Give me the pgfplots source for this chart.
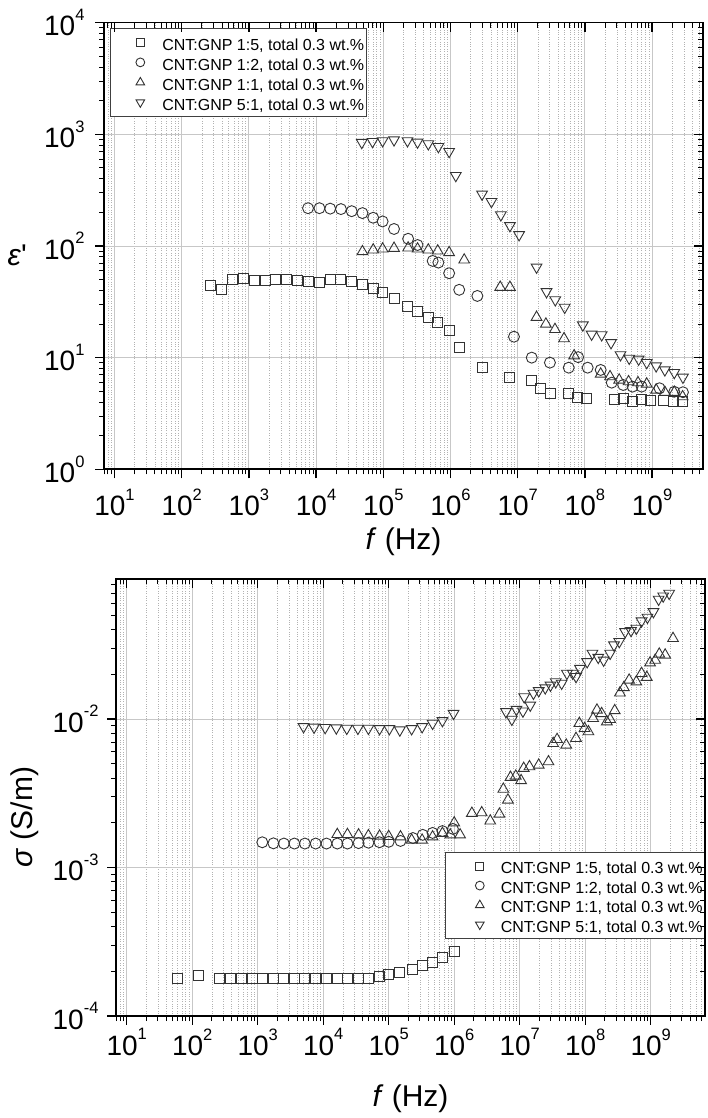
\documentclass[border=0pt]{standalone}
\usepackage{pgfplots}
\pgfplotsset{compat=1.18}
\usepackage{fontspec}
\setmainfont{Liberation Sans}

% tick label 10^n in the text font
\newcommand{\tl}[1]{10\raisebox{0.55em}{\fontsize{16.5}{16.5}\selectfont #1}}

\pgfplotsset{
  myaxis/.style={
    scale only axis,
    axis line style={line width=1.6pt},
    major tick length=9pt, minor tick length=5pt,
    tick style={black, line width=1.3pt},
    minor tick style={line width=1.0pt},
    ticklabel style={font=\fontsize{28}{30}\selectfont},
    label style={font=\fontsize{30}{34}\selectfont},
    xtick={1e1,1e2,1e3,1e4,1e5,1e6,1e7,1e8,1e9},
    minor xtick={7,8,9,20,30,40,50,60,70,80,90,200,300,400,500,600,700,800,900,2e3,3e3,4e3,5e3,6e3,7e3,8e3,9e3,2e4,3e4,4e4,5e4,6e4,7e4,8e4,9e4,2e5,3e5,4e5,5e5,6e5,7e5,8e5,9e5,2e6,3e6,4e6,5e6,6e6,7e6,8e6,9e6,2e7,3e7,4e7,5e7,6e7,7e7,8e7,9e7,2e8,3e8,4e8,5e8,6e8,7e8,8e8,9e8,2e9,3e9,4e9,5e9,6e9},
  },
  epsy/.style={
    ytick={1,10,100,1000,10000},
    minor ytick={2,3,4,5,6,7,8,9,20,30,40,50,60,70,80,90,200,300,400,500,600,700,800,900,2000,3000,4000,5000,6000,7000,8000,9000},
  },
  sigy/.style={
    ytick={1e-4,1e-3,1e-2},
    minor ytick={2e-4,3e-4,4e-4,5e-4,6e-4,7e-4,8e-4,9e-4,2e-3,3e-3,4e-3,5e-3,6e-3,7e-3,8e-3,9e-3,2e-2,3e-2,4e-2,5e-2,6e-2,7e-2,8e-2},
  },
}
\tikzset{
  msq/.style={mark=square, mark size=5pt, mark options={draw=black!80, line width=0.9pt}},
  mci/.style={mark=o, mark size=5.5pt, mark options={draw=black!80, line width=0.9pt}},
  mtu/.style={mark=triangle, mark size=6.2pt, mark options={draw=black!80, line width=0.9pt}},
  mtd/.style={mark=triangle, mark size=6.2pt, mark options={draw=black!80, line width=0.9pt, rotate=180}},
}

\begin{document}
\begin{tikzpicture}
\path[use as bounding box] (0,0) rectangle (707pt,1118pt);

% ---------------- permittivity ----------------
\begin{axis}[myaxis, epsy, xmode=log, ymode=log,
    at={(104pt,648.7pt)}, anchor=south west, width=599pt, height=446.6pt,
    xmin=6.98, xmax=5.73e9, ymin=1, ymax=1e4,
    xticklabels={\tl{1},\tl{2},\tl{3},\tl{4},\tl{5},\tl{6},\tl{7},\tl{8},\tl{9}},
    yticklabels={\tl{0},\tl{1},\tl{2},\tl{3},\tl{4}},
    xticklabel style={yshift=-7pt},
    yticklabel style={xshift=-7pt},
    tick align=outside, xtick pos=left, ytick pos=left,
    xmajorgrids, ymajorgrids, xminorgrids,
    major grid style={black!22, line width=0.8pt},
    minor grid style={black!30, dotted, line width=0.7pt},
    xlabel={\textit{f} (Hz)},
    xlabel style={at={(axis description cs:0.5,0)}, anchor=center, yshift=-72pt},
    ylabel={\textit{ε}\textquotesingle},
    ylabel style={at={(axis description cs:-0.145,0.48)}, anchor=center, rotate=-90},
    legend cell align=left,
    legend style={at={(0.010,0.988)}, anchor=north west, draw=black!75, line width=0.7pt,
      font=\fontsize{16}{18}\selectfont, inner xsep=0pt, inner ysep=4pt, row sep=0pt,
      nodes={inner xsep=2pt, inner ysep=0pt, text height=18pt, text depth=2pt}},
    legend image code/.code={\path[draw=none] (0pt,-1pt) rectangle (50pt,1pt);
      \draw[#1, every mark/.append style={scale=0.8}] plot coordinates {(30pt,0pt)};},
  ]
\addplot[only marks, msq] table {
269 43.9
394 41.0
566 49.7
826 51.1
1191 49.0
1738 49.0
2512 49.7
3631 50.1
5248 49.0
7586 48.4
11220 47.4
16218 49.7
23442 50.1
33884 48.0
48978 45.5
70795 41.5
97724 38.3
144544 34.0
229087 29.0
323594 26.1
467735 23.0
645654 20.6
954993 17.7
1.349e6 12.3
2.951e6 8.13
7.50e6 6.62
1.62e7 6.31
2.19e7 5.27
3.09e7 4.73
5.62e7 4.80
7.76e7 4.42
1.07e8 4.33
2.75e8 4.18
3.72e8 4.33
5.13e8 4.06
7.00e8 4.24
9.55e8 4.12
1.48e9 4.12
2.09e9 4.04
2.88e9 4.04
};
\addlegendentry{CNT:GNP 1:5, total 0.3 wt.\%}
\addplot[only marks, mci] table {
7586 218
11220 218
16218 216
23442 214
33884 205
48978 197
70795 179
97724 166
144544 142
234423 116
323594 102
543250 73.5
660693 71.0
954993 57.0
1.349e6 40.5
2.512e6 35.7
8.81e6 15.4
1.62e7 10.0
3.02e7 9.02
5.75e7 8.13
7.94e7 10.1
1.10e8 8.13
1.72e8 7.76
2.51e8 5.97
3.72e8 5.69
5.13e8 5.50
7.00e8 5.50
1.29e9 5.32
2.14e9 4.95
2.88e9 4.90
};
\addlegendentry{CNT:GNP 1:2, total 0.3 wt.\%}
\addplot[only marks, mtu] table {
48978 89.1
70795 92.3
97724 94.2
144544 95.5
234423 96.2
323594 94.2
467735 92.3
645654 90.4
954993 87.3
1.60e6 75.0
5.50e6 42.7
7.67e6 42.7
1.91e7 23.0
2.63e7 20.0
3.59e7 17.9
4.90e7 14.8
6.92e7 10.4
1.72e8 7.14
2.37e8 6.76
3.24e8 6.31
4.47e8 6.10
6.17e8 5.97
8.32e8 5.81
1.15e9 5.13
1.55e9 4.90
2.14e9 4.90
2.85e9 4.47
};
\addlegendentry{CNT:GNP 1:1, total 0.3 wt.\%}
\addplot[only marks, mtd] table {
47863 845
69183 861
97724 875
144544 891
229087 875
323594 851
467735 822
660693 776
954993 701
1.20e6 427
2.95e6 291
4.07e6 250
5.62e6 190
7.67e6 152
1.05e7 126
1.91e7 64.6
2.69e7 38.9
3.63e7 32.9
5.01e7 28.2
9.33e7 19.6
1.26e8 16.2
1.78e8 16.0
2.45e8 13.6
3.39e8 10.6
4.57e8 9.86
6.31e8 9.68
8.32e8 9.02
1.15e9 8.43
1.55e9 7.76
2.14e9 7.35
2.88e9 6.67
};
\addlegendentry{CNT:GNP 5:1, total 0.3 wt.\%}
\end{axis}
% mirrored inward ticks on top and right
\begin{axis}[myaxis, epsy, xmode=log, ymode=log,
    at={(104pt,648.7pt)}, anchor=south west, width=599pt, height=446.6pt,
    xmin=6.98, xmax=5.73e9, ymin=1, ymax=1e4,
    xticklabels={}, yticklabels={},
    tick align=inside, xtick pos=right, ytick pos=right,
  ]
\addplot[draw=none, forget plot] coordinates {(100,10)};
\end{axis}

% ---------------- conductivity ----------------
\begin{axis}[myaxis, sigy, xmode=log, ymode=log,
    at={(116pt,102pt)}, anchor=south west, width=589pt, height=437pt,
    xmin=6.87, xmax=6.74e9, ymin=1e-4, ymax=0.0877,
    xticklabels={\tl{1},\tl{2},\tl{3},\tl{4},\tl{5},\tl{6},\tl{7},\tl{8},\tl{9}},
    yticklabels={\tl{-4},\tl{-3},\tl{-2}},
    yticklabel style={xshift=-5pt},
    tick align=outside, xtick pos=left, ytick pos=left,
    xmajorgrids, ymajorgrids, xminorgrids,
    major grid style={black!22, line width=0.8pt},
    minor grid style={black!30, dotted, line width=0.7pt},
    xlabel={\textit{f} (Hz)},
    xlabel style={at={(axis description cs:0.5,0)}, anchor=center, yshift=-83pt},
    ylabel={\textit{σ} (S/m)},
    ylabel style={at={(axis description cs:-0.1545,0.455)}, anchor=center},
    legend cell align=left,
    legend style={at={(1,0.3753)}, anchor=north east, draw=black!75, line width=0.7pt,
      font=\fontsize{16}{18}\selectfont, inner xsep=0pt, inner ysep=4pt, row sep=0pt,
      nodes={inner xsep=2pt, inner ysep=0pt, text height=17.5pt, text depth=2pt}},
    legend image code/.code={\path[draw=none] (0pt,-1pt) rectangle (53pt,1pt);
      \draw[#1, every mark/.append style={scale=0.8}] plot coordinates {(34pt,0pt)};},
  ]
\addplot[only marks, msq] table {
59.3 1.795e-4
126 1.87e-4
263 1.795e-4
389 1.795e-4
562 1.795e-4
832 1.795e-4
1202 1.795e-4
1738 1.795e-4
2512 1.79e-4
3631 1.79e-4
5248 1.795e-4
7674 1.795e-4
11220 1.795e-4
16406 1.78e-4
23442 1.78e-4
34674 1.79e-4
48978 1.795e-4
72444 1.84e-4
100000 1.90e-4
147911 1.97e-4
234423 2.07e-4
323594 2.18e-4
467735 2.31e-4
660693 2.47e-4
1.0e6 2.71e-4
};
\addlegendentry{CNT:GNP 1:5, total 0.3 wt.\%}
\addplot[only marks, mci] table {
1175 1.479e-3
1738 1.455e-3
2512 1.45e-3
3631 1.45e-3
5248 1.45e-3
7674 1.45e-3
11220 1.45e-3
16406 1.45e-3
23442 1.45e-3
34674 1.46e-3
48978 1.47e-3
72444 1.48e-3
100000 1.49e-3
151356 1.51e-3
234423 1.58e-3
331131 1.66e-3
467735 1.71e-3
660693 1.76e-3
954993 1.82e-3
};
\addlegendentry{CNT:GNP 1:2, total 0.3 wt.\%}
\addplot[only marks, mtu] table {
16406 1.67e-3
23442 1.67e-3
34674 1.66e-3
48978 1.64e-3
72444 1.63e-3
100000 1.62e-3
151356 1.61e-3
223872 1.53e-3
323594 1.53e-3
467735 1.61e-3
660693 1.70e-3
870964 1.66e-3
1.0e6 2.0e-3
1.23e6 1.66e-3
1.86e6 2.32e-3
2.63e6 2.34e-3
3.55e6 2.06e-3
4.90e6 2.29e-3
5.62e6 3.37e-3
6.61e6 2.85e-3
7.24e6 4.05e-3
8.71e6 4.13e-3
1.05e7 3.85e-3
1.15e7 4.66e-3
1.41e7 4.78e-3
1.95e7 4.90e-3
2.75e7 5.16e-3
3.24e7 6.85e-3
3.72e7 7.29e-3
5.13e7 6.68e-3
7.24e7 7.41e-3
8.13e7 9.35e-3
9.77e7 8.65e-3
1.12e8 8.22e-3
1.32e8 1.01e-2
1.51e8 1.15e-2
1.78e8 1.09e-2
2.14e8 9.59e-3
2.40e8 9.95e-3
2.82e8 1.14e-2
3.39e8 1.50e-2
3.89e8 1.63e-2
4.68e8 1.83e-2
6.03e8 1.78e-2
7.24e8 2.03e-2
8.71e8 1.91e-2
9.77e8 2.39e-2
1.17e9 2.49e-2
1.35e9 2.74e-2
1.66e9 2.70e-2
2.19e9 3.49e-2
};
\addlegendentry{CNT:GNP 1:1, total 0.3 wt.\%}
\addplot[only marks, mtd] table {
5012 8.87e-3
7244 8.8e-3
10715 8.75e-3
15849 8.7e-3
22909 8.65e-3
33884 8.65e-3
48978 8.65e-3
72444 8.6e-3
102329 8.6e-3
147911 8.43e-3
223872 8.6e-3
323594 8.87e-3
467735 9.35e-3
660693 9.75e-3
977237 1.09e-2
6.17e6 1.12e-2
7.59e6 9.95e-3
8.91e6 1.16e-2
1.12e7 1.13e-2
1.17e7 1.41e-2
1.45e7 1.24e-2
1.62e7 1.49e-2
1.95e7 1.55e-2
2.45e7 1.62e-2
2.95e7 1.69e-2
3.55e7 1.78e-2
4.37e7 1.74e-2
5.25e7 2.03e-2
6.46e7 2.03e-2
7.24e7 1.93e-2
8.32e7 2.19e-2
1.07e8 2.43e-2
1.29e8 2.77e-2
1.58e8 2.60e-2
1.91e8 2.49e-2
2.40e8 2.77e-2
2.75e8 3.15e-2
3.31e8 3.32e-2
4.07e8 3.87e-2
5.01e8 3.94e-2
6.03e8 4.08e-2
7.24e8 4.57e-2
8.91e8 4.84e-2
1.10e9 5.28e-2
1.32e9 6.40e-2
1.55e9 6.73e-2
1.91e9 7.02e-2
};
\addlegendentry{CNT:GNP 5:1, total 0.3 wt.\%}
\end{axis}
\begin{axis}[myaxis, sigy, xmode=log, ymode=log,
    at={(116pt,102pt)}, anchor=south west, width=589pt, height=437pt,
    xmin=6.87, xmax=6.74e9, ymin=1e-4, ymax=0.0877,
    xticklabels={}, yticklabels={},
    tick align=inside, xtick pos=right, ytick pos=right,
  ]
\addplot[draw=none, forget plot] coordinates {(100,1e-3)};
\end{axis}
\end{tikzpicture}
\end{document}
